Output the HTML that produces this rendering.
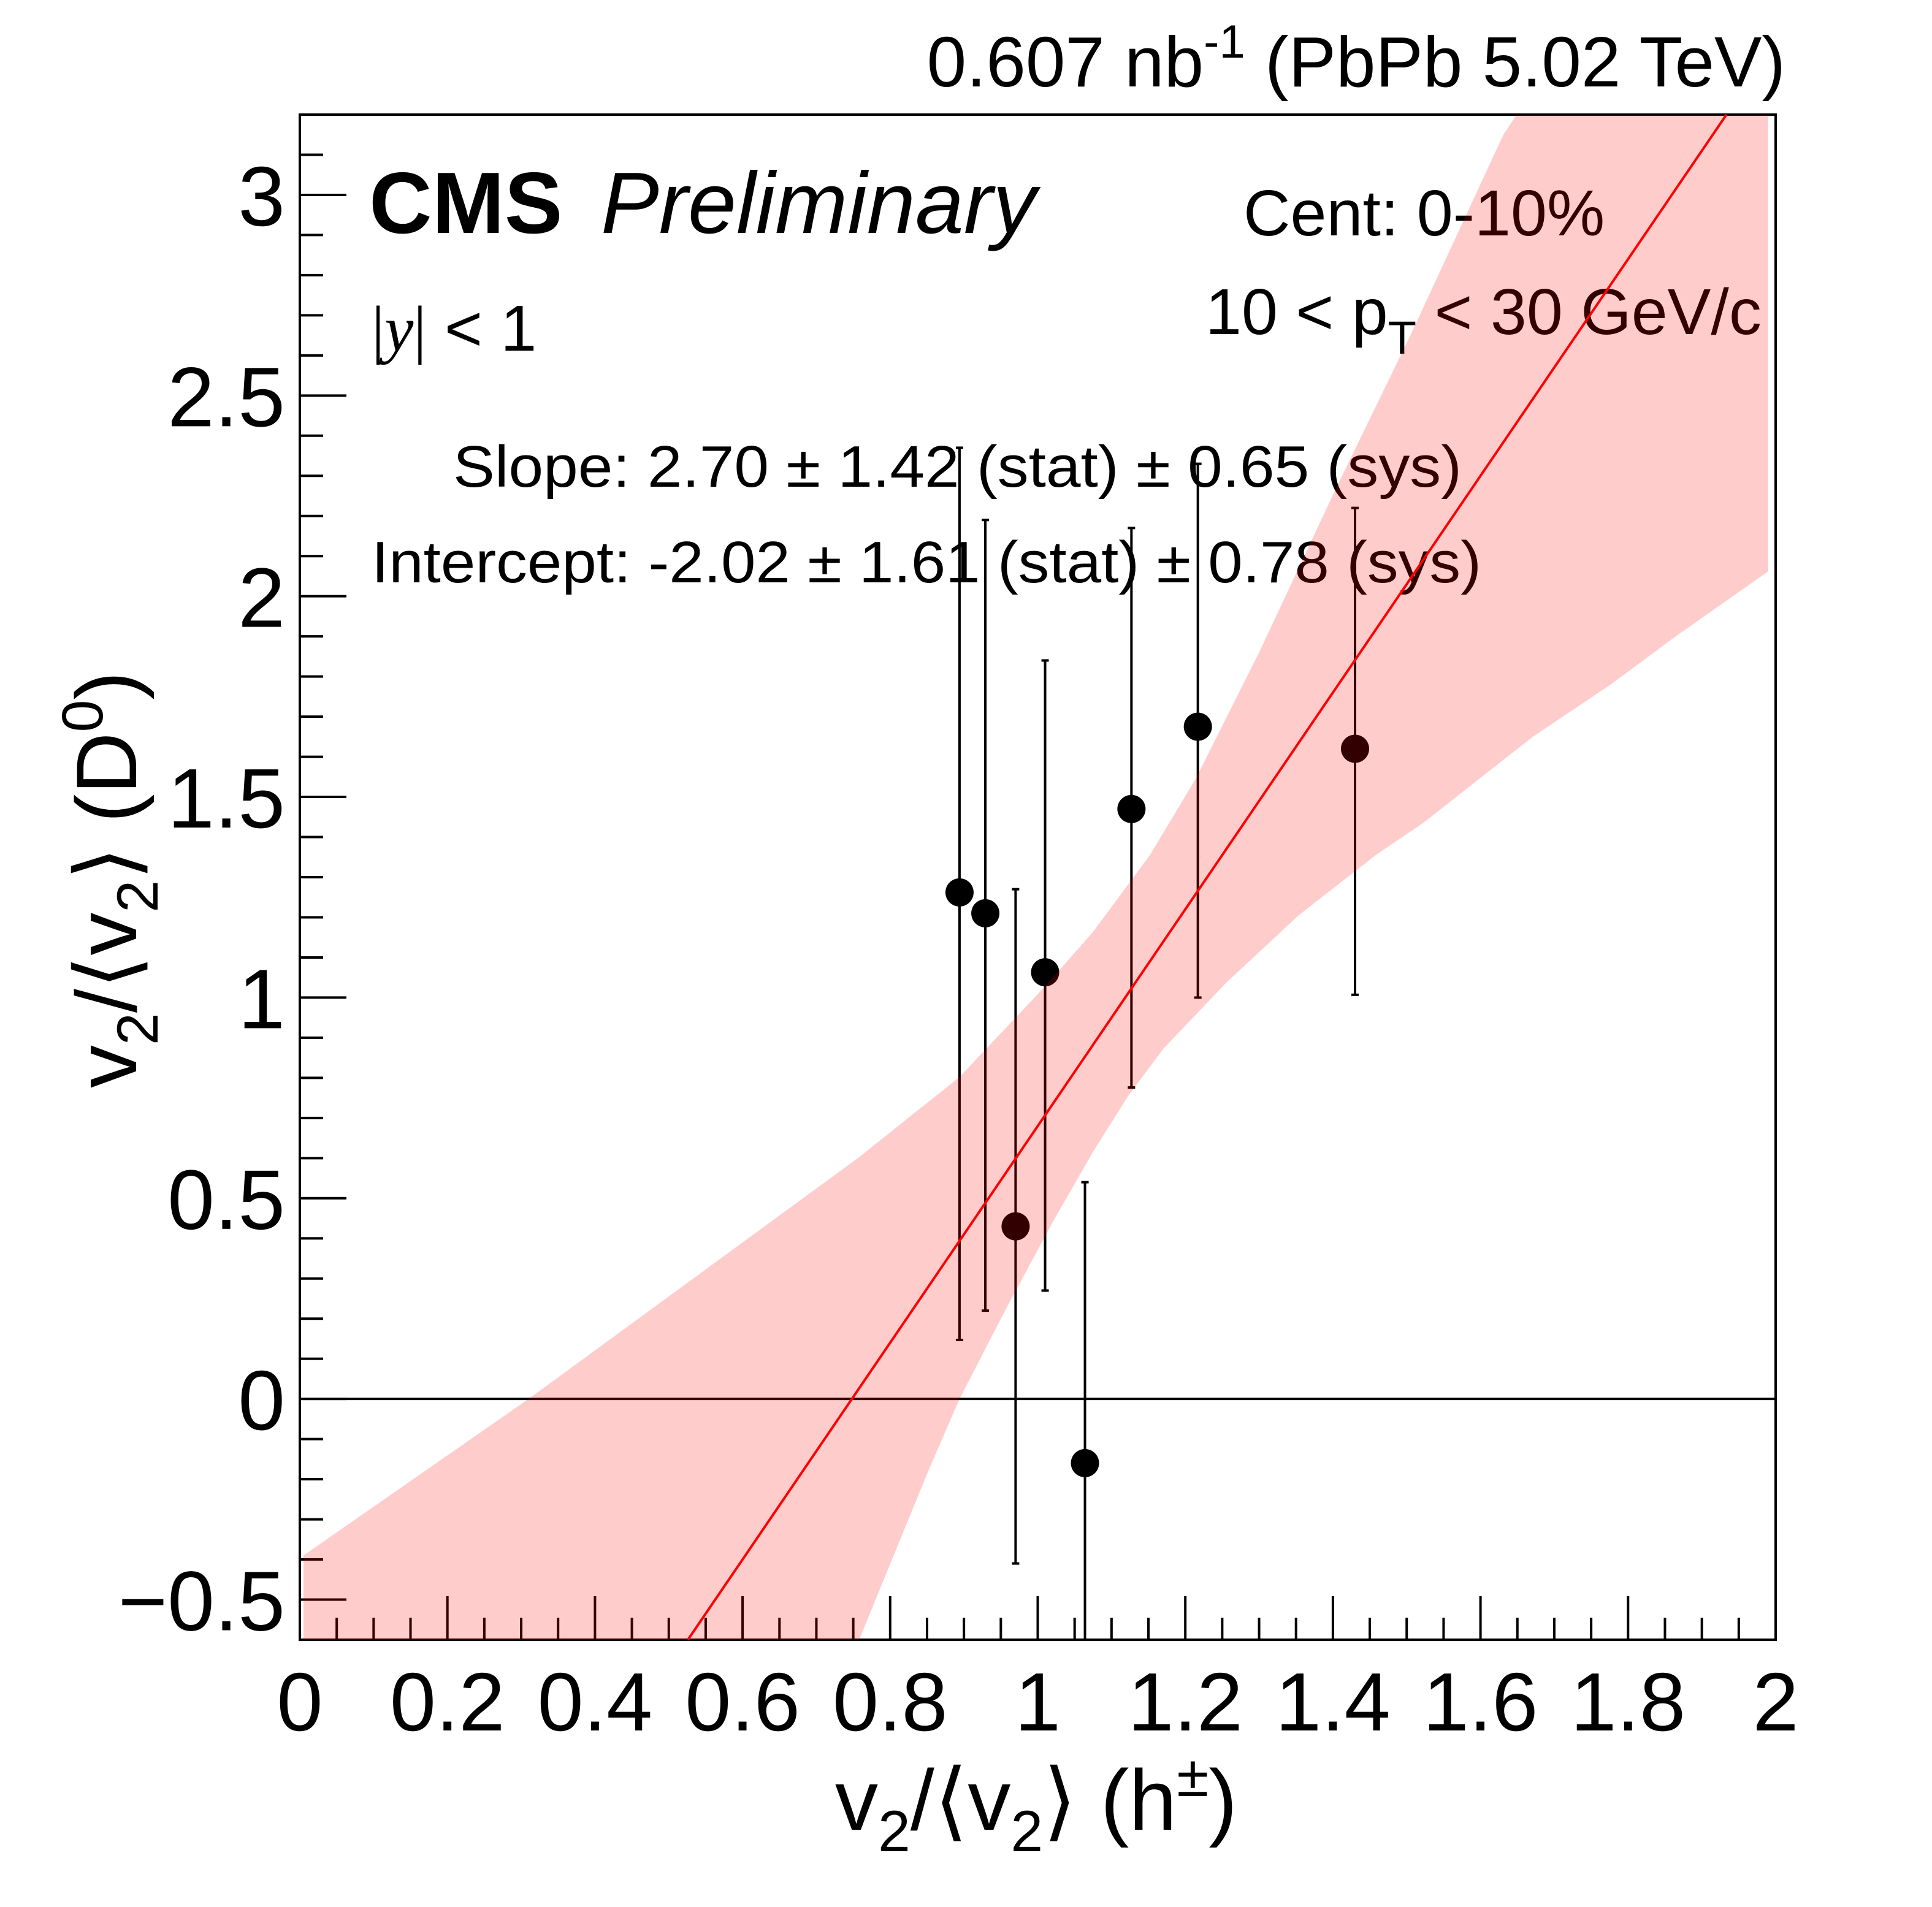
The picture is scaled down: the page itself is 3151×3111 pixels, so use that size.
<!DOCTYPE html>
<html><head><meta charset="utf-8"><style>
html,body{margin:0;padding:0;background:#fff;}
svg{display:block;font-family:"Liberation Sans",sans-serif;}
</style></head><body>
<svg id="chart" width="3151" height="3111" viewBox="0 0 3151 3111" xmlns="http://www.w3.org/2000/svg">
<g id="texts">
<text x="2912" y="141" font-size="116" text-anchor="end">0.607 nb<tspan font-size="76" dy="-47">-1</tspan><tspan dy="47"> (PbPb 5.02 TeV)</tspan></text>
<text x="602" y="380" font-size="142" font-weight="bold">CMS</text>
<text x="980" y="380" font-size="142" font-style="italic">Preliminary</text>
<text x="2028" y="384" font-size="106">Cent: 0-10%</text>
<text x="1966" y="545" font-size="106">10 &lt; p<tspan font-size="76" dy="32">T</tspan><tspan dy="-32"> &lt; 30 GeV/c</tspan></text>
<text x="606" y="572" font-size="106"><tspan font-family="Liberation Serif,serif">|</tspan><tspan font-family="Liberation Serif,serif" font-style="italic">y</tspan><tspan font-family="Liberation Serif,serif">|</tspan> &lt; 1</text>
<text x="739" y="794" font-size="96" textLength="1645" lengthAdjust="spacingAndGlyphs">Slope: 2.70 ± 1.42 (stat) ± 0.65 (sys)</text>
<text x="606" y="950" font-size="96" textLength="1810" lengthAdjust="spacingAndGlyphs">Intercept: -2.02 ± 1.61 (stat) ± 0.78 (sys)</text>
<text x="1690" y="2985" font-size="140" text-anchor="middle">v<tspan font-size="95" dy="35">2</tspan><tspan dy="-35">/⟨v</tspan><tspan font-size="95" dy="35">2</tspan><tspan dy="-35">⟩ (h</tspan><tspan font-size="95" dy="-55">±</tspan><tspan dy="55">)</tspan></text>
<text transform="translate(222,1435) rotate(-90)" font-size="140" text-anchor="middle">v<tspan font-size="95" dy="35">2</tspan><tspan dy="-35">/⟨v</tspan><tspan font-size="95" dy="35">2</tspan><tspan dy="-35">⟩ (D</tspan><tspan font-size="95" dy="-55">0</tspan><tspan dy="55">)</tspan></text>
</g>
<g id="axes"></g>
<g id="marks"></g>
<g id="band"></g>
<g id="fit"></g>
</svg>
<script>
const pointX = [0.894, 0.929, 0.970, 1.010, 1.064, 1.127, 1.217, 1.430];
const pointY = [1.262, 1.210, 0.430, 1.063, -0.160, 1.470, 1.675, 1.620];
const errHigh = [2.37, 2.19, 1.27, 1.84, 0.54, 2.17, 2.33, 2.22];
const errLow = [0.147, 0.22, -0.41, 0.27, -0.75, 0.776, 1.0, 1.007];
const fitSlope = 2.70;
const fitIntercept = -2.02;
const bandUpperX = [0.005, 0.31, 0.757, 0.894, 1.011, 1.075, 1.152, 1.214, 1.300, 1.404, 1.505, 1.631, 1.649, 1.99];
const bandUpperY = [-0.39, 0.0, 0.601, 0.802, 1.03, 1.164, 1.355, 1.545, 1.860, 2.268, 2.65, 3.15, 3.2, 3.2];
const bandLowerX = [0.005, 0.758, 0.852, 0.894, 0.954, 1.021, 1.075, 1.123, 1.170, 1.256, 1.353, 1.458, 1.523, 1.608, 1.671, 1.778, 1.863, 1.99];
const bandLowerY = [-0.6, -0.6, -0.178, 0.0, 0.214, 0.443, 0.616, 0.756, 0.872, 1.038, 1.204, 1.355, 1.436, 1.559, 1.650, 1.782, 1.898, 2.062];
const xTickLabels = ["0","0.2","0.4","0.6","0.8","1","1.2","1.4","1.6","1.8","2"];
const yTickLabels = ["−0.5","0","0.5","1","1.5","2","2.5","3"];

const L=489,R=2896,T=187,B=2675,XMIN=0,XMAX=2,YMIN=-0.6,YMAX=3.2;
const sx=v=>L+(v-XMIN)/(XMAX-XMIN)*(R-L);
const sy=v=>B-(v-YMIN)/(YMAX-YMIN)*(B-T);
const NS="http://www.w3.org/2000/svg";
function mk(tag,attrs,parent){const e=document.createElementNS(NS,tag);for(const k in attrs)e.setAttribute(k,attrs[k]);parent.appendChild(e);return e;}
const axes=document.getElementById('axes'),marks=document.getElementById('marks'),band=document.getElementById('band'),fit=document.getElementById('fit');

let fr=mk('rect',{x:L,y:T,width:R-L,height:B-T,fill:'none',stroke:'#000','stroke-width':4},axes);


for(let i=0;i<=40;i++){const v=i*0.05;const major=i%4===0;
 let t=mk('line',{x1:sx(v),x2:sx(v),y1:B,y2:B-(major?71:36),stroke:'#000','stroke-width':4},axes);
 
 }
xTickLabels.forEach((s,i)=>{const v=i*0.2;
 let t=mk('text',{x:sx(v),y:2823,'font-size':135,'text-anchor':'middle'},axes);t.textContent=s;
 
 });
for(let i=-6;i<=32;i++){const v=i*0.1;const major=i%5===0;
 let t=mk('line',{x1:L,x2:L+(major?76:38),y1:sy(v),y2:sy(v),stroke:'#000','stroke-width':4},axes);
 
 }
yTickLabels.forEach((s,i)=>{const v=-0.5+i*0.5;
 let t=mk('text',{x:465,y:sy(v)+50,'font-size':138,'text-anchor':'end'},axes);t.textContent=s;
 
 });
let z=mk('line',{x1:L,x2:R,y1:sy(0),y2:sy(0),stroke:'#000','stroke-width':4},axes);



pointX.forEach((x,i)=>{
 const hi=Math.min(errHigh[i],YMAX),lo=Math.max(errLow[i],YMIN);
 let e=mk('line',{x1:sx(x),x2:sx(x),y1:sy(hi),y2:sy(lo),stroke:'#000','stroke-width':4},marks);
 
 
 if(errHigh[i]<YMAX){let c=mk('line',{x1:sx(x)-6,x2:sx(x)+6,y1:sy(hi),y2:sy(hi),stroke:'#000','stroke-width':4},marks);
  
  }
 if(errLow[i]>YMIN){let c=mk('line',{x1:sx(x)-6,x2:sx(x)+6,y1:sy(lo),y2:sy(lo),stroke:'#000','stroke-width':4},marks);
  
  }
 let p=mk('circle',{cx:sx(x),cy:sy(pointY[i]),r:23,fill:'#000'},marks);
 
 
});

let d='M'+bandUpperX.map((x,i)=>sx(x)+','+sy(bandUpperY[i])).join(' L');
for(let i=bandLowerX.length-1;i>=0;i--)d+=' L'+sx(bandLowerX[i])+','+sy(bandLowerY[i]);
d+=' Z';
let bp=mk('path',{d:d,fill:'rgb(255,0,0)','fill-opacity':0.2},band);



const x0=(YMIN-fitIntercept)/fitSlope,x1=(YMAX-fitIntercept)/fitSlope;
let fl=mk('line',{x1:sx(x0),y1:sy(YMIN),x2:sx(x1),y2:sy(YMAX),stroke:'#f00','stroke-width':4},fit);


</script>
</body></html>
